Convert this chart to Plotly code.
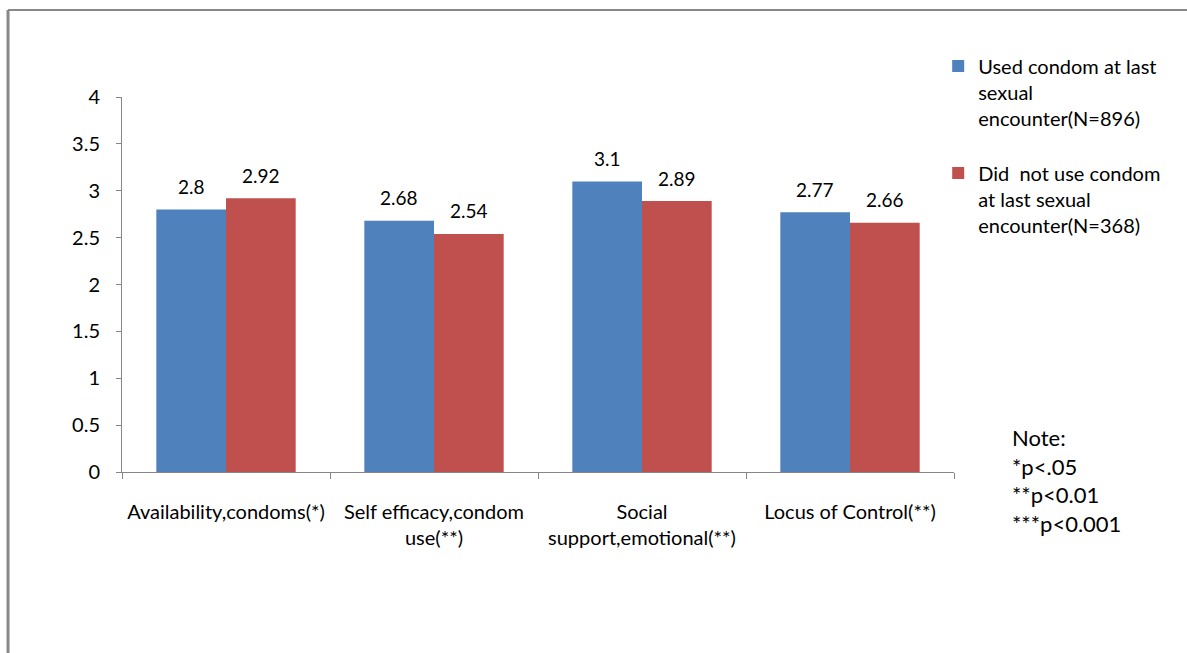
import plotly.graph_objects as go

categories = ["Availability,condoms(*)", "Self efficacy,condom<br>use(**)",
              "Social<br>support,emotional(**)", "Locus of Control(**)"]
used = [2.8, 2.68, 3.1, 2.77]
not_used = [2.92, 2.54, 2.89, 2.66]
used_labels = ["2.8", "2.68", "3.1", "2.77"]
not_used_labels = ["2.92", "2.54", "2.89", "2.66"]
series_names = ["Used condom at last<br>sexual<br>encounter(N=896)",
                "Did  not use condom<br>at last sexual<br>encounter(N=368)"]
y_ticks = [0, 0.5, 1, 1.5, 2, 2.5, 3, 3.5, 4]
note_lines = ["Note:", "*p<.05", "**p<0.01", "***p<0.001"]

BLUE = "#4F81BD"
RED = "#C0504D"
FONT = "Lato, Carlito, Calibri, sans-serif"

fig = go.Figure()
fig.add_trace(go.Bar(x=categories, y=used, name=series_names[0], marker_color=BLUE,
                     marker_line_width=0, legendgroup="a"))
fig.add_trace(go.Bar(x=categories, y=not_used, name=series_names[1], marker_color=RED,
                     marker_line_width=0, legendgroup="b"))

annotations = []
for i, c in enumerate(categories):
    annotations.append(dict(x=c, y=used[i], text=used_labels[i], showarrow=False,
                            xshift=-35, yshift=23, font=dict(size=19, color="#000", family=FONT)))
    annotations.append(dict(x=c, y=not_used[i], text=not_used_labels[i], showarrow=False,
                            xshift=35, yshift=23, font=dict(size=19, color="#000", family=FONT)))

annotations.append(dict(xref="paper", yref="paper", x=1.067, y=0.133, xanchor="left", yanchor="top",
                        text="<br>".join(note_lines), align="left", showarrow=False,
                        font=dict(size=22, color="#000", family=FONT)))

fig.update_layout(
    width=1187, height=653,
    margin=dict(l=122, r=233, t=97, b=181),
    paper_bgcolor="white", plot_bgcolor="white",
    barmode="group", bargap=0.33, bargroupgap=0,
    font=dict(family=FONT, size=19, color="#000"),
    showlegend=True,
    legend=dict(x=0.981, y=1.135, xanchor="left", yanchor="top", valign="top",
                font=dict(size=20, family=FONT, color="#000"),
                tracegroupgap=26, itemsizing="constant", bgcolor="rgba(0,0,0,0)"),
    annotations=annotations,
    shapes=[
        dict(type="line", xref="paper", yref="paper", x0=-0.137, x1=1.3, y0=1.232, y1=1.232,
             line=dict(color="#888888", width=2)),
        dict(type="line", xref="paper", yref="paper", x0=-0.137, x1=-0.137, y0=1.232, y1=-0.5,
             line=dict(color="#888888", width=3)),
    ],
)
fig.update_xaxes(showline=True, linecolor="#868686", linewidth=1, ticks="outside",
                 tickson="boundaries", ticklen=6, tickcolor="#868686",
                 tickfont=dict(size=20, family=FONT, color="#000"), ticklabelstandoff=22,
                 showgrid=False)
fig.update_yaxes(range=[0, 4], tickvals=y_ticks, ticktext=[f"{v:g}" for v in y_ticks],
                 showline=True, linecolor="#868686", linewidth=1, ticks="outside",
                 ticklen=5, tickcolor="#868686", showgrid=False, zeroline=False,
                 tickfont=dict(size=20, family=FONT, color="#000"), ticklabelstandoff=12)

fig.write_html("out.html")
